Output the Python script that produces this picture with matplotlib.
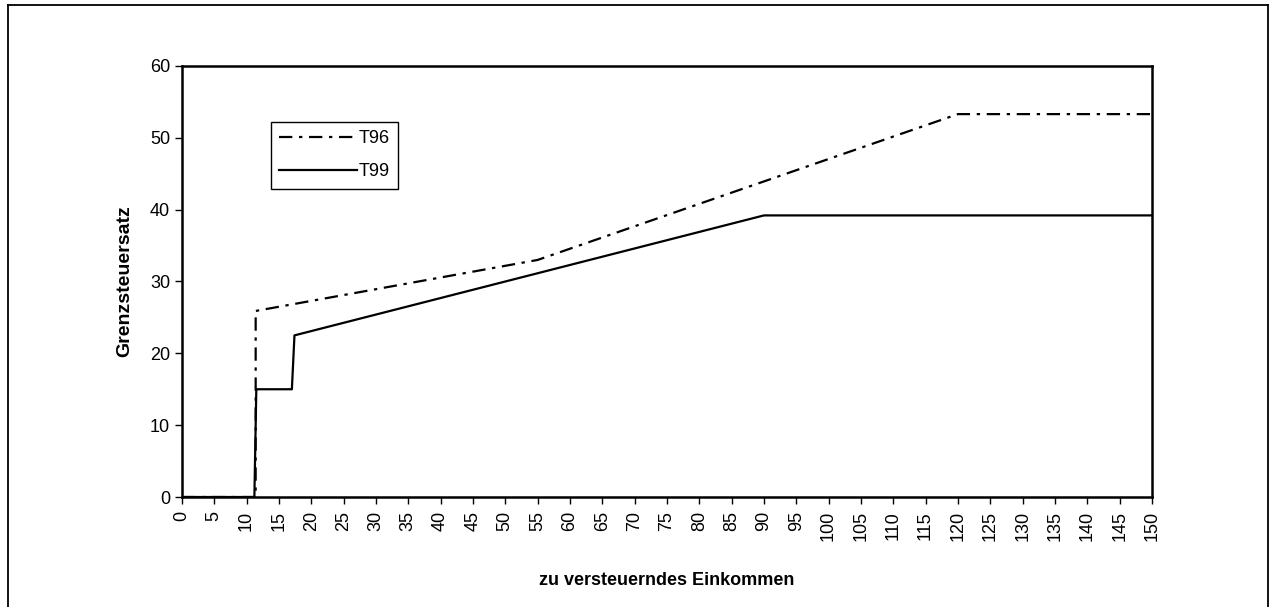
import matplotlib.pyplot as plt
from matplotlib.lines import Line2D

# Marginal tax rate curves (income in thousands)
t96_income = [0, 11.4, 11.4, 55, 120, 150]
t96_rate = [0, 0, 25.9, 33.0, 53.3, 53.3]

t99_income = [0, 11.2, 11.5, 17.0, 17.4, 90, 150]
t99_rate = [0, 0, 15.0, 15.0, 22.5, 39.2, 39.2]

x_ticks = list(range(0, 151, 5))
y_ticks = list(range(0, 61, 10))

plt.rcParams["font.family"] = ["Liberation Sans", "DejaVu Sans"]

fig = plt.figure(figsize=(12.75, 6.07), dpi=100)
ax = fig.add_axes([0.1427, 0.1812, 0.7608, 0.7101])

ax.plot(t96_income, t96_rate, color="black", linewidth=1.6,
        dashes=(6, 3, 1.5, 3), label="T96")
ax.plot(t99_income, t99_rate, color="black", linewidth=1.6, label="T99")

ax.set_xlim(0, 150)
ax.set_ylim(0, 60)
ax.set_xticks(x_ticks)
ax.set_yticks(y_ticks)
ax.tick_params(axis="x", labelrotation=90, labelsize=13, length=5, width=1, pad=5)
ax.tick_params(axis="y", labelsize=13, length=5, width=1)
for s in ax.spines.values():
    s.set_linewidth(1.8)

ax.set_xlabel("zu versteuerndes Einkommen", fontsize=13, fontweight="bold", labelpad=22)
ax.set_ylabel("Grenzsteuersatz", fontsize=14, fontweight="bold", labelpad=12)

leg = ax.legend(loc="upper left", bbox_to_anchor=(0.092, 0.87), borderaxespad=0,
                fancybox=False, framealpha=1, edgecolor="black", fontsize=13,
                handlelength=4.3, handletextpad=0.1, borderpad=0.45, labelspacing=0.9)
leg.get_frame().set_linewidth(1)

# outer frame around the chart (bottom edge cut off)
W, H = 1275, 607
for xs, ys in [([8, 1268], [5, 5]), ([1268, 1268], [5, 607]), ([8, 8], [5, 607])]:
    fig.add_artist(Line2D([x / W for x in xs], [1 - y / H for y in ys],
                          color="black", linewidth=1.3))

fig.savefig("out.png", dpi=100)
